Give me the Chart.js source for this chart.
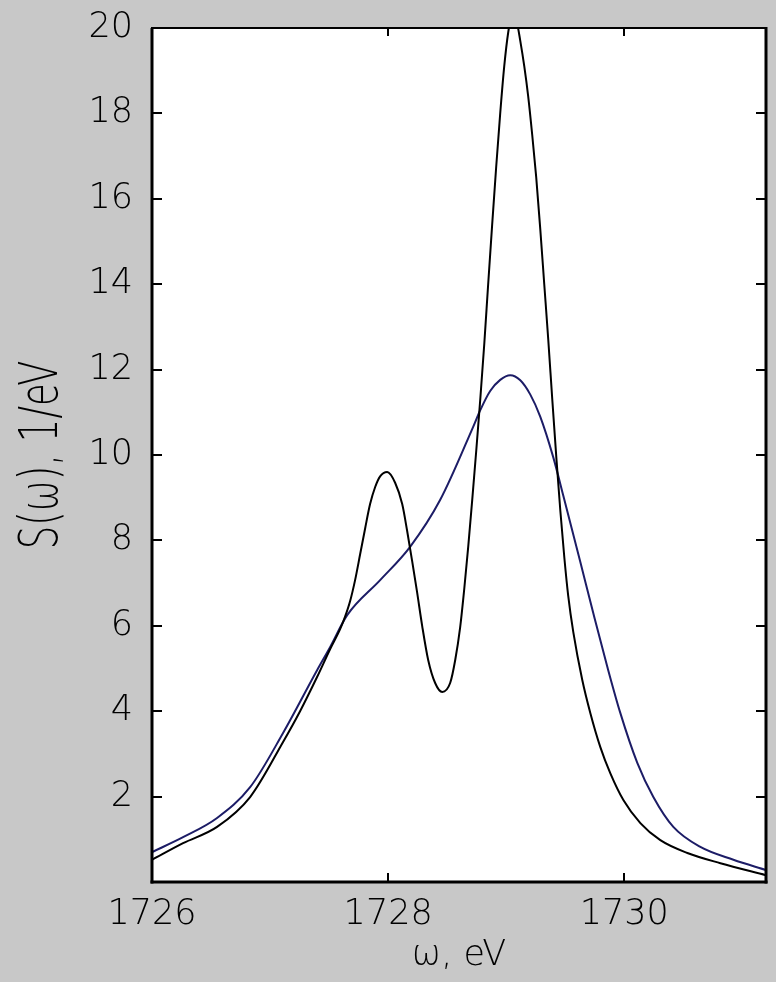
<!DOCTYPE html>
<html>
<head>
<meta charset="utf-8">
<script src="https://cdn.jsdelivr.net/npm/chart.js@4/dist/chart.umd.min.js"></script>
<style>
  html, body { margin: 0; padding: 0; background: #c8c8c8; }
  #wrap { width: 776px; height: 982px; }
</style>
</head>
<body>
<div id="wrap"><canvas id="c" width="776" height="982"></canvas></div>
<script>
// Photon energy (eV) and spectral density S(ω) (1/eV) for the narrow two-peak spectrum
const omegaNarrow = [1726.000, 1726.263, 1726.551, 1726.831, 1727.110, 1727.254, 1727.398, 1727.508, 1727.593,
  1727.636, 1727.678, 1727.720, 1727.763, 1727.805, 1727.847, 1727.890, 1727.932, 1727.992, 1728.059, 1728.119,
  1728.161, 1728.203, 1728.246, 1728.288, 1728.339, 1728.398, 1728.458, 1728.525, 1728.568, 1728.610,
  1728.644, 1728.678, 1728.712, 1728.746, 1728.780, 1728.814, 1728.847, 1728.881, 1728.915, 1728.949,
  1728.983, 1729.017, 1729.051, 1729.085, 1729.119, 1729.153, 1729.186, 1729.220, 1729.254, 1729.288,
  1729.322, 1729.356, 1729.390, 1729.424, 1729.458, 1729.492, 1729.525, 1729.568, 1729.644, 1729.712,
  1729.797, 1729.881, 1729.992, 1730.136, 1730.305, 1730.534, 1730.814, 1731.200];
const sNarrow = [0.52, 0.91, 1.29, 1.99, 3.28, 4.00, 4.80, 5.45, 5.92,
  6.22, 6.58, 7.07, 7.68, 8.28, 8.85, 9.25, 9.50, 9.60, 9.35, 8.85,
  8.22, 7.52, 6.77, 6.00, 5.20, 4.66, 4.45, 4.66, 5.20, 5.97,
  6.85, 7.85, 8.95, 10.10, 11.30, 12.60, 14.00, 15.40, 16.75, 18.00,
  19.10, 19.90, 20.35, 20.20, 19.70, 19.10, 18.40, 17.50, 16.50, 15.30,
  14.00, 12.70, 11.30, 9.95, 8.70, 7.60, 6.70, 5.85, 4.73, 3.96,
  3.16, 2.55, 1.92, 1.38, 0.98, 0.68, 0.44, 0.16];

// Broad single-peak spectrum
const omegaBroad = [1726.000, 1726.263, 1726.551, 1726.831, 1727.110, 1727.398, 1727.508, 1727.653, 1727.932,
  1728.186, 1728.441, 1728.720, 1728.780, 1728.864, 1728.949, 1729.034, 1729.119, 1729.203, 1729.288,
  1729.398, 1729.483, 1729.627, 1729.737, 1729.856, 1729.966, 1730.110, 1730.246, 1730.415, 1730.644,
  1730.924, 1731.200];
const sBroad = [0.70, 1.05, 1.50, 2.22, 3.49, 4.96, 5.50, 6.25, 7.07,
  7.85, 8.95, 10.66, 11.05, 11.50, 11.76, 11.87, 11.75, 11.42, 10.90,
  9.95, 9.05, 7.50, 6.30, 5.04, 3.96, 2.79, 1.99, 1.29, 0.82,
  0.52, 0.28];

const xTickValues = [1726, 1728, 1730];
const yTickValues = [2, 4, 6, 8, 10, 12, 14, 16, 18, 20];

const xRange = [1726, 1731.2];
const yRange = [0, 20];

const xTitle = 'ω, eV';
const yTitle = 'S(ω), 1/eV';

const toPoints = (xs, ys) => xs.map((v, i) => ({ x: v, y: ys[i] }));

const fontFamily = '"DejaVu Sans", sans-serif';
const labelFont = { family: fontFamily, size: 35, weight: '300' };

// White plotting box, inward tick marks on all four sides, the box outline
// and the tall vertical axis caption
const boxPlugin = {
  id: 'box',
  beforeDraw(chart) {
    const { ctx, chartArea: a } = chart;
    ctx.save();
    ctx.fillStyle = '#ffffff';
    ctx.fillRect(a.left, a.top, a.right - a.left, a.bottom - a.top);
    ctx.restore();
  },
  afterDatasetsDraw(chart) {
    const { ctx, chartArea: a, scales: { x, y } } = chart;
    const seg = (x1, y1, x2, y2) => { ctx.beginPath(); ctx.moveTo(x1, y1); ctx.lineTo(x2, y2); ctx.stroke(); };
    ctx.save();
    ctx.strokeStyle = '#000000';
    ctx.lineWidth = 2;
    x.ticks.forEach(t => {
      const px = Math.round(x.getPixelForValue(t.value));
      seg(px, a.bottom, px, a.bottom - 9);
      seg(px, a.top, px, a.top + 8);
    });
    y.ticks.forEach(t => {
      const py = Math.round(y.getPixelForValue(t.value));
      seg(a.left, py, a.left + 10, py);
      seg(a.right, py, a.right - 10, py);
    });
    ctx.lineWidth = 2;
    seg(a.left - 1, a.top, a.right + 1, a.top);
    ctx.lineWidth = 3;
    seg(a.left, a.top, a.left, a.bottom + 1.5);
    seg(a.left - 1.5, a.bottom, a.right + 1.5, a.bottom);
    seg(a.right, a.top - 1, a.right, a.bottom + 1.5);
    ctx.restore();
  },
  afterDraw(chart) {
    const { ctx, chartArea: a } = chart;
    ctx.save();
    ctx.translate(43, (a.top + a.bottom) / 2);
    ctx.rotate(-Math.PI / 2);
    ctx.scale(1.06, 1.5);
    ctx.font = '300 35px ' + fontFamily;
    ctx.fillStyle = '#000000';
    ctx.textAlign = 'center';
    ctx.textBaseline = 'middle';
    ctx.fillText(yTitle, 0, 0);
    ctx.restore();
  }
};

new Chart(document.getElementById('c'), {
  type: 'line',
  data: {
    datasets: [
      {
        data: toPoints(omegaNarrow, sNarrow),
        borderColor: '#000000',
        borderWidth: 2,
        pointRadius: 0,
        cubicInterpolationMode: 'monotone',
        fill: false
      },
      {
        data: toPoints(omegaBroad, sBroad),
        borderColor: '#1c1c66',
        borderWidth: 2,
        pointRadius: 0,
        cubicInterpolationMode: 'monotone',
        fill: false
      }
    ]
  },
  options: {
    responsive: false,
    animation: false,
    devicePixelRatio: 1,
    layout: { padding: { left: 0, top: 28, right: 10, bottom: 0 } },
    plugins: { legend: { display: false }, tooltip: { enabled: false } },
    scales: {
      x: {
        type: 'linear',
        min: xRange[0],
        max: xRange[1],
        grid: { display: false, drawTicks: false },
        border: { display: false },
        afterBuildTicks: s => { s.ticks = xTickValues.map(v => ({ value: v })); },
        afterFit: s => { s.height = 100; s.paddingLeft = 0; s.paddingRight = 0; },
        ticks: {
          color: '#000000',
          font: labelFont,
          padding: 12,
          maxRotation: 0,
          callback: v => String(v)
        },
        title: {
          display: true,
          text: xTitle,
          color: '#000000',
          font: labelFont,
          padding: { top: 0, bottom: 5 }
        }
      },
      y: {
        type: 'linear',
        min: yRange[0],
        max: yRange[1],
        grid: { display: false, drawTicks: false },
        border: { display: false },
        afterBuildTicks: s => { s.ticks = yTickValues.map(v => ({ value: v })); },
        afterFit: s => { s.width = 152; s.paddingTop = 0; s.paddingBottom = 0; },
        ticks: {
          color: '#000000',
          font: labelFont,
          padding: 19,
          callback: v => String(v)
        },
        title: { display: false }
      }
    }
  },
  plugins: [boxPlugin]
});
</script>
</body>
</html>
